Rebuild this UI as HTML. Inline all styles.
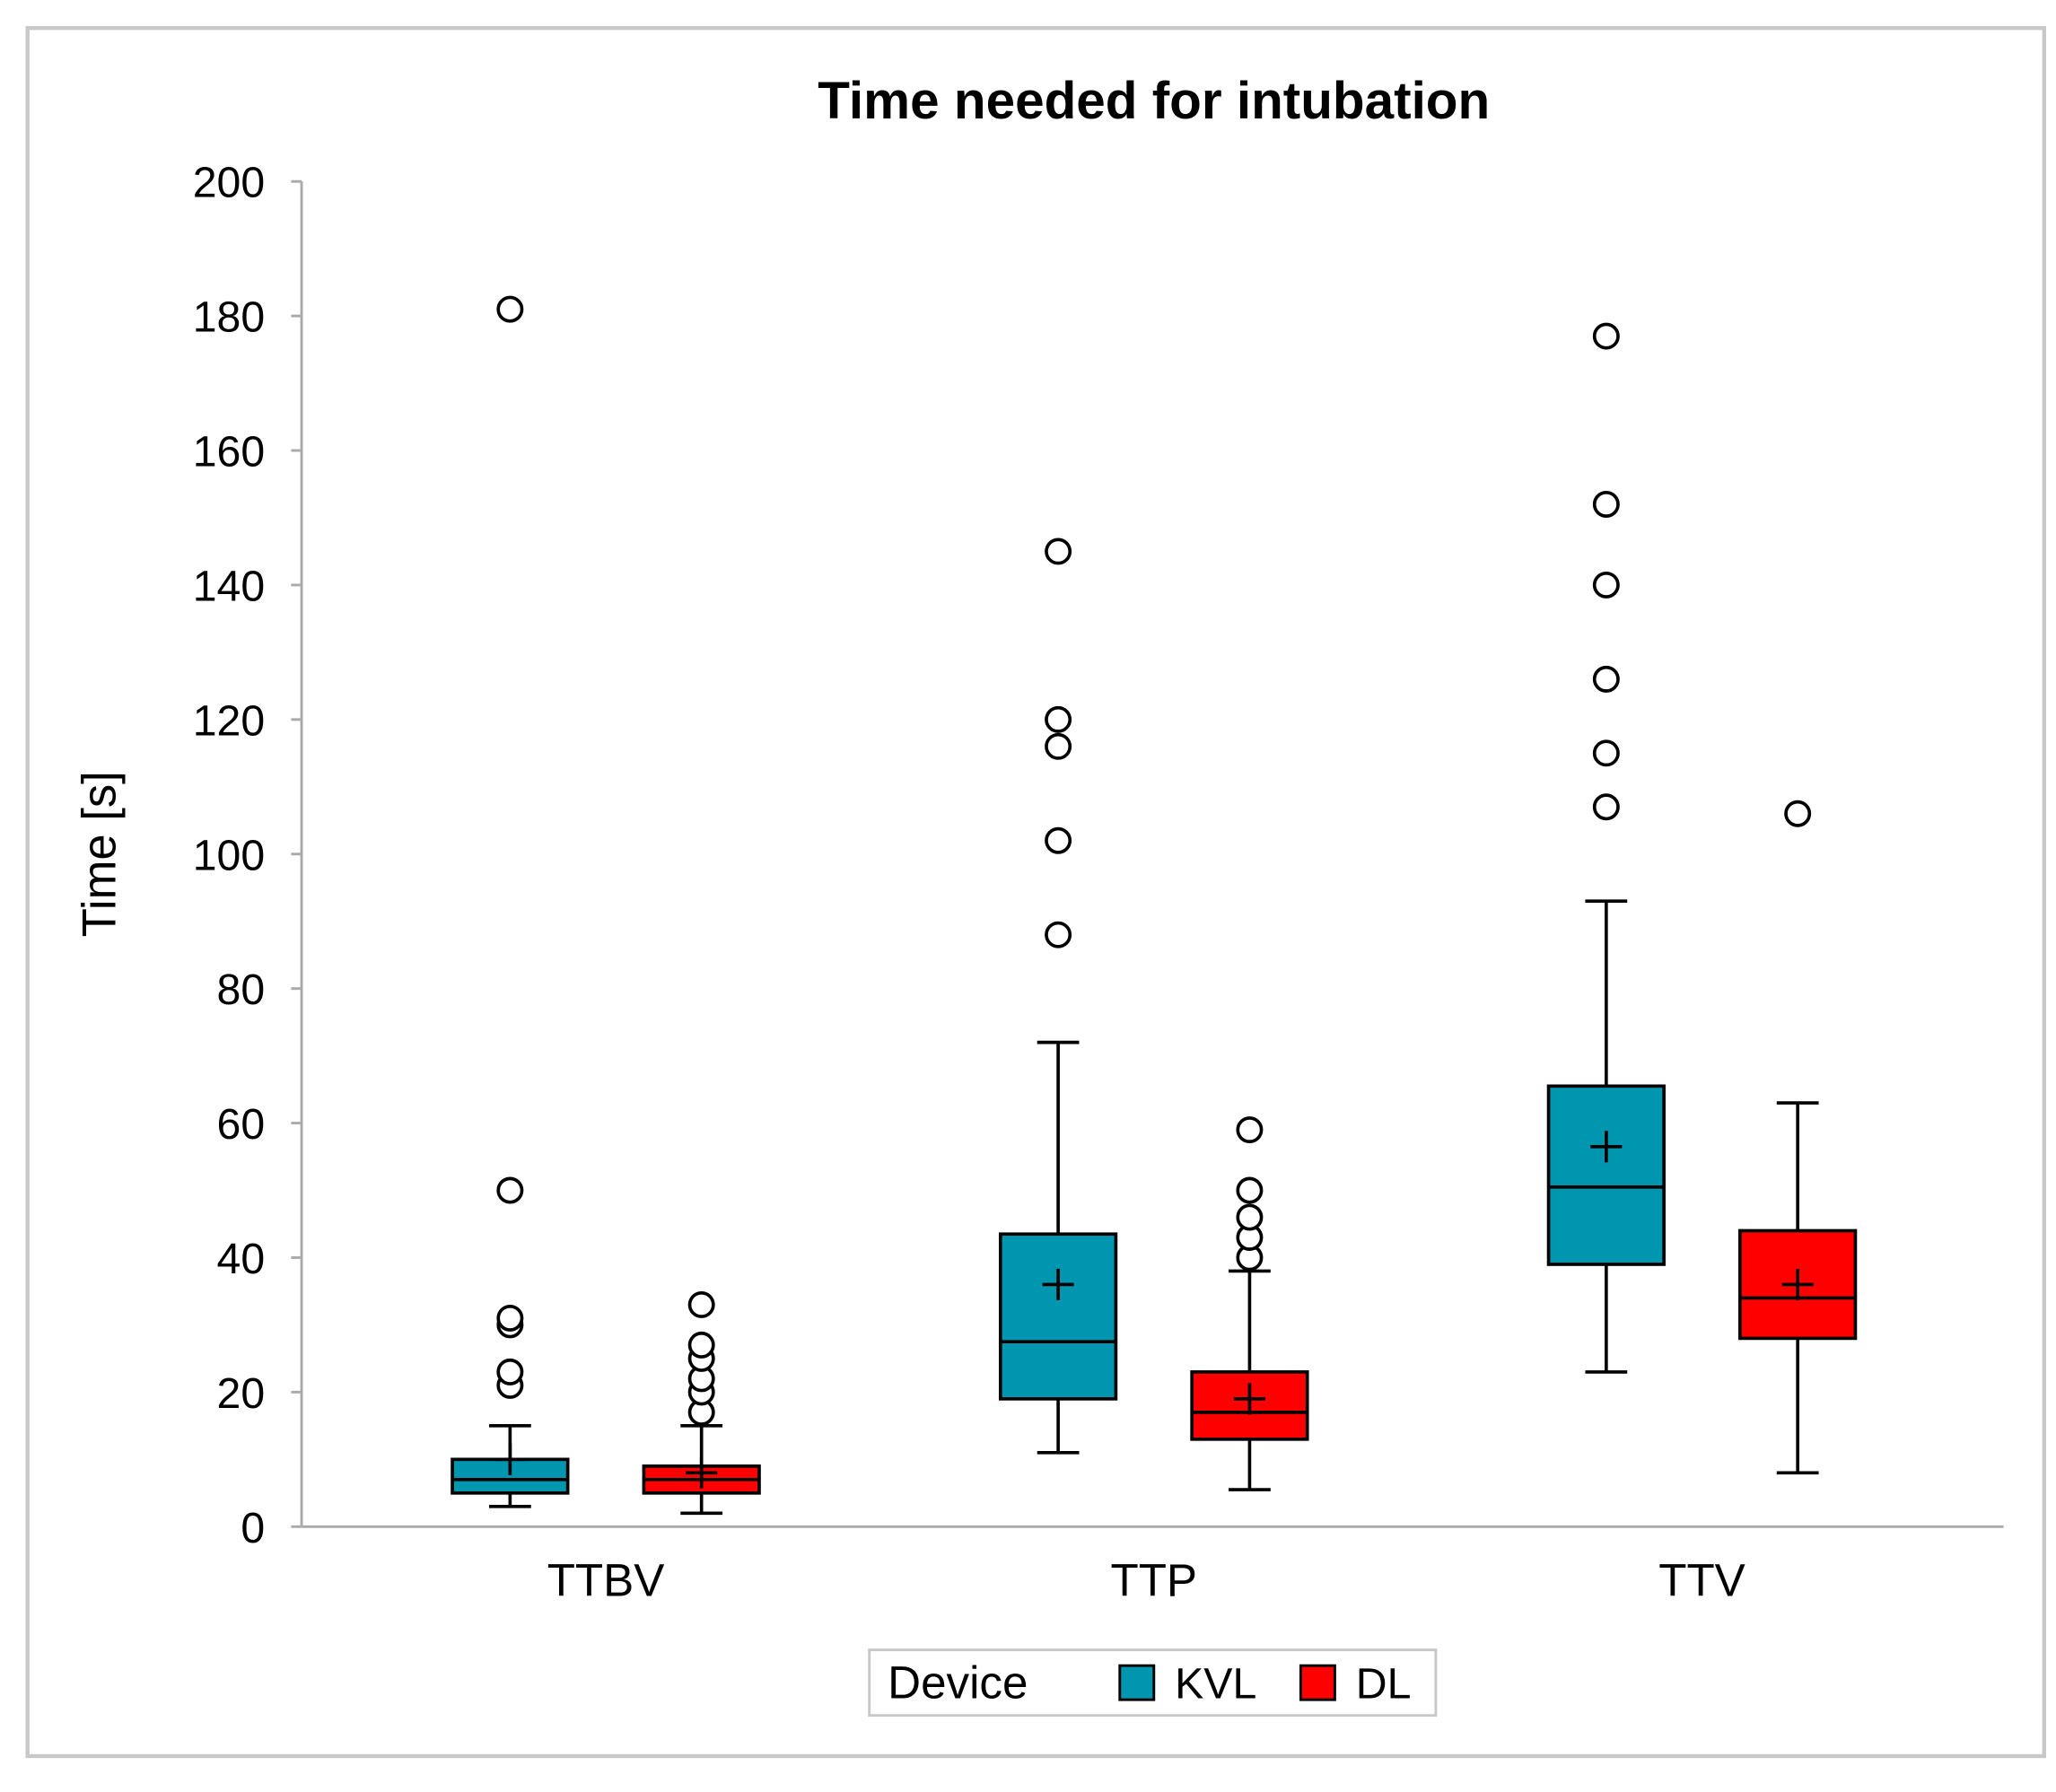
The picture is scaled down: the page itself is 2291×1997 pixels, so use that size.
<!DOCTYPE html>
<html><head><meta charset="utf-8"><style>
html,body{margin:0;padding:0;background:#fff}
svg{display:block}
text{font-family:"Liberation Sans",Arial,sans-serif;fill:#000}
</style></head><body>
<svg id="chart" width="2291" height="1997" viewBox="0 0 1568 1366" xmlns="http://www.w3.org/2000/svg">
<rect x="21" y="21" width="1538" height="1318" fill="#fff" stroke="#c8c8c8" stroke-width="3"/>
<text x="880" y="90" font-size="40" font-weight="bold" text-anchor="middle">Time needed for intubation</text>
<text transform="translate(88,651) rotate(-90)" font-size="36" text-anchor="middle">Time [s]</text>
<g id="axes"></g>
<g id="marks"></g>
<g>
<rect x="663" y="1258" width="432" height="50" fill="#fff" stroke="#c8c8c8" stroke-width="2"/>
<text x="677" y="1295" font-size="35">Device</text>
<rect x="854" y="1270" width="26" height="26" fill="#0096b0" stroke="#000" stroke-width="2"/>
<text x="896" y="1295" font-size="33">KVL</text>
<rect x="992" y="1270" width="26" height="26" fill="#ff0000" stroke="#000" stroke-width="2"/>
<text x="1034" y="1295" font-size="33">DL</text>
</g>
</svg>
<script>
const categories = ["TTBV","TTP","TTV"];
const seriesNames = ["KVL","DL"];
const seriesColors = ["#0096b0","#ff0000"];
const yTicks = [0,20,40,60,80,100,120,140,160,180,200];
// [min whisker, q1, median, q3, max whisker, mean]
const kvlStats = [[3,5,7,10,15,10],[11,19,27.5,43.5,72,36],[23,39,50.5,65.5,93,56.5]];
const dlStats = [[2,5,7,9,15,8],[5.5,13,17,23,38,19],[8,28,34,44,63,36]];
const kvlOutliers = [[21,23,30,31,50,181],[88,102,116,120,145],[107,115,126,140,152,177]];
const dlOutliers = [[17,20,22,25,27,33],[40,43,46,50,59],[106]];

const NS="http://www.w3.org/2000/svg";
const x0=230,x1=1528,y0=1164,y1=138,yMax=200;
const yS=v=>y0-(v/yMax)*(y0-y1);
const xC=i=>462+418*i;
const xS=(i,s)=>xC(i)+(s===0?-73:73);
function mk(tag,attrs,parent){const e=document.createElementNS(NS,tag);for(const k in attrs)e.setAttribute(k,attrs[k]);parent.appendChild(e);return e;}
const axes=document.getElementById('axes'),marks=document.getElementById('marks');
const ya=mk('line',{x1:x0,y1:y1,x2:x0,y2:y0,stroke:'#aaa','stroke-width':2},axes);


const xa=mk('line',{x1:x0,y1:y0,x2:x1,y2:y0,stroke:'#aaa','stroke-width':2},axes);


yTicks.forEach(t=>{
 mk('line',{x1:x0-8,y1:yS(t),x2:x0,y2:yS(t),stroke:'#aaa','stroke-width':2},axes);
 const tx=mk('text',{x:x0-28,y:yS(t)+12,'font-size':33,'text-anchor':'end'},axes);
 tx.textContent=t;
 
 
});
categories.forEach((c,i)=>{
 const tx=mk('text',{x:xC(i),y:1217,'font-size':35,'text-anchor':'middle'},axes);
 tx.textContent=c;
 
 
});
[kvlStats,dlStats].forEach((stats,s)=>{
 const outs=s===0?kvlOutliers:dlOutliers;
 stats.forEach((st,i)=>{
  const cx=xS(i,s),hw=44,cap=16;
  const g=mk('g',{},marks);
  
  
  const ln={stroke:'#000','stroke-width':2.5};
  mk('line',Object.assign({x1:cx,y1:yS(st[0]),x2:cx,y2:yS(st[1])},ln),g);
  mk('line',Object.assign({x1:cx,y1:yS(st[3]),x2:cx,y2:yS(st[4])},ln),g);
  mk('line',Object.assign({x1:cx-cap,y1:yS(st[0]),x2:cx+cap,y2:yS(st[0])},ln),g);
  mk('line',Object.assign({x1:cx-cap,y1:yS(st[4]),x2:cx+cap,y2:yS(st[4])},ln),g);
  mk('rect',{x:cx-hw,y:yS(st[3]),width:hw*2,height:yS(st[1])-yS(st[3]),fill:seriesColors[s],stroke:'#000','stroke-width':2.5},g);
  mk('line',Object.assign({x1:cx-hw,y1:yS(st[2]),x2:cx+hw,y2:yS(st[2])},ln),g);
  mk('line',Object.assign({x1:cx-12,y1:yS(st[5]),x2:cx+12,y2:yS(st[5])},ln),g);
  mk('line',Object.assign({x1:cx,y1:yS(st[5])-12,x2:cx,y2:yS(st[5])+12},ln),g);
  outs[i].forEach(v=>{
   const c=mk('circle',{cx:cx,cy:yS(v),r:9,fill:'#fff',stroke:'#000','stroke-width':2.5},marks);
   
   
  });
 });
});
</script>
</body></html>
